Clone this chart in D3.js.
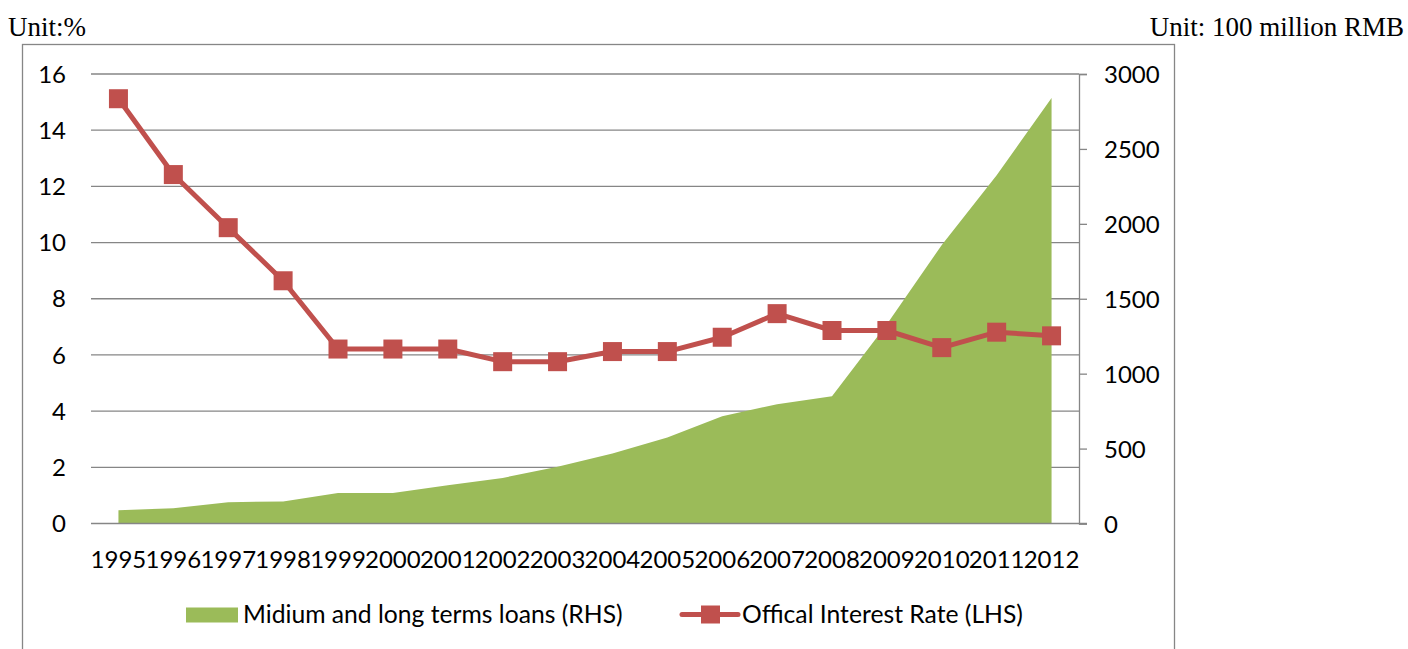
<!DOCTYPE html>
<meta charset="utf-8" />
<html>
    <head>
        <script src="https://d3js.org/d3.v7.min.js"></script>
        <style>
            body { margin: 0; background: white; }
            .tick_label { font-family: Lato, sans-serif; font-size: 24px; fill: black; }
            .legend_label { font-family: Lato, sans-serif; font-size: 24.7px; fill: black; }
            .unit_label { font-family: "Liberation Serif", serif; font-size: 27px; fill: black; }
        </style>
    </head>
    <body>
        <svg width="1408" height="649"></svg>
    </body>
    <script>
        // Chart data
        var years = ["1995", "1996", "1997", "1998", "1999", "2000", "2001", "2002", "2003",
                     "2004", "2005", "2006", "2007", "2008", "2009", "2010", "2011", "2012"];
        var interest_rate = [15.12, 12.42, 10.53, 8.64, 6.21, 6.21, 6.21, 5.76, 5.76,
                             6.12, 6.12, 6.63, 7.47, 6.87, 6.87, 6.26, 6.81, 6.68];
        var loans = [89, 102, 142, 147, 204, 204, 256, 304, 378,
                     467, 574, 716, 796, 849, 1330, 1859, 2325, 2840];
        var left_ticks = [0, 2, 4, 6, 8, 10, 12, 14, 16];
        var right_ticks = [0, 500, 1000, 1500, 2000, 2500, 3000];
        var loans_label = "Midium and long terms loans (RHS)";
        var rate_label = "Offical Interest Rate (LHS)";

        var grid_color = "#868686";
        var green = "#9bbb59";
        var red = "#c0504d";

        var svg = d3.select("svg");
        var plot = {left: 91, right: 1079, top: 74, bottom: 523.5};

        var x = d3.scaleBand().domain(years).range([plot.left, plot.right]).padding(0);
        var y_left = d3.scaleLinear().domain([0, 16]).range([plot.bottom, plot.top]);
        var y_right = d3.scaleLinear().domain([0, 3000]).range([plot.bottom, plot.top]);
        var cx = function(yr) { return x(yr) + x.bandwidth() / 2; };

        // outer chart frame (bottom edge is off the picture)
        svg.append("rect")
            .attr("x", 22.5).attr("y", 44.5)
            .attr("width", 1152).attr("height", 700)
            .attr("fill", "none").attr("stroke", grid_color).attr("stroke-width", 1.3);

        // units
        svg.append("text").attr("class", "unit_label").attr("x", 8).attr("y", 36).text("Unit:%");
        svg.append("text").attr("class", "unit_label").attr("x", 1404).attr("y", 36)
            .attr("text-anchor", "end").text("Unit: 100 million RMB");

        // horizontal gridlines
        svg.append("g").selectAll("line").data(left_ticks.slice(1)).enter().append("line")
            .attr("x1", plot.left).attr("x2", plot.right)
            .attr("y1", function(d) { return y_left(d); }).attr("y2", function(d) { return y_left(d); })
            .attr("stroke", grid_color).attr("stroke-width", 1.3);

        // loans area
        var loans_data = years.map(function(yr, i) { return {year: yr, value: loans[i]}; });
        var area = d3.area()
            .x(function(d) { return cx(d.year); })
            .y0(y_right(0))
            .y1(function(d) { return y_right(d.value); });
        svg.append("path").datum(loans_data).attr("d", area).attr("fill", green);

        // x axis line (runs out to the right-hand 0 tick)
        svg.append("line")
            .attr("x1", plot.left).attr("x2", plot.right + 8)
            .attr("y1", y_left(0)).attr("y2", y_left(0))
            .attr("stroke", grid_color).attr("stroke-width", 1.6);

        // left labels, no axis line
        svg.append("g").selectAll("text").data(left_ticks).enter().append("text")
            .attr("class", "tick_label")
            .attr("x", 66).attr("y", function(d) { return y_left(d); })
            .attr("dy", "0.36em").attr("text-anchor", "end")
            .text(function(d) { return d; });

        // right axis
        var right_axis = svg.append("g")
            .attr("transform", "translate(" + plot.right + ",0)")
            .call(d3.axisRight(y_right).tickValues(right_ticks).tickFormat(d3.format("d"))
                .tickSize(8).tickPadding(17));
        right_axis.selectAll("path, line").attr("stroke", grid_color).attr("stroke-width", 1.3);
        right_axis.selectAll("text").attr("class", "tick_label").attr("font-size", null)
            .attr("font-family", null).attr("dy", "0.36em");

        // x labels
        svg.append("g").selectAll("text").data(years).enter().append("text")
            .attr("class", "tick_label")
            .attr("x", function(d) { return cx(d); }).attr("y", 568)
            .attr("text-anchor", "middle")
            .text(function(d) { return d; });

        // interest rate line + square markers
        var rate_data = years.map(function(yr, i) { return {year: yr, value: interest_rate[i]}; });
        var rate_line = d3.line()
            .x(function(d) { return cx(d.year); })
            .y(function(d) { return y_left(d.value); });
        svg.append("path").datum(rate_data).attr("d", rate_line)
            .attr("fill", "none").attr("stroke", red).attr("stroke-width", 5)
            .attr("stroke-linejoin", "round");
        var m = 19;
        svg.append("g").selectAll("rect").data(rate_data).enter().append("rect")
            .attr("x", function(d) { return cx(d.year) - m / 2; })
            .attr("y", function(d) { return y_left(d.value) - m / 2; })
            .attr("width", m).attr("height", m)
            .attr("fill", red);

        // legend
        var legend = svg.append("g");
        legend.append("rect").attr("x", 186).attr("y", 607.5).attr("width", 52).attr("height", 15).attr("fill", green);
        legend.append("text").attr("class", "legend_label").attr("x", 243).attr("y", 623).text(loans_label);
        legend.append("line").attr("x1", 682).attr("x2", 738).attr("y1", 614.5).attr("y2", 614.5)
            .attr("stroke", red).attr("stroke-width", 5).attr("stroke-linecap", "round");
        legend.append("rect").attr("x", 701).attr("y", 605.5).attr("width", m).attr("height", 18).attr("fill", red);
        legend.append("text").attr("class", "legend_label").attr("x", 742).attr("y", 623).text(rate_label);
    </script>
</html>
